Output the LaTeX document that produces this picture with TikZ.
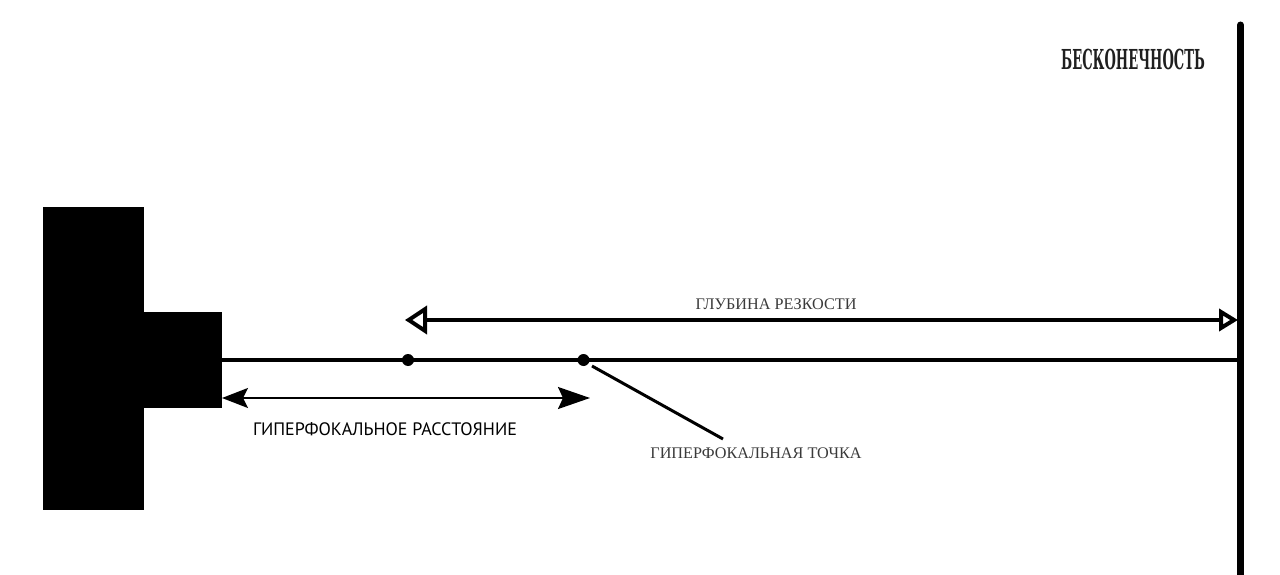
\documentclass[tikz,border=0pt]{standalone}
\usepackage{fontspec}
\setmainfont{Liberation Serif}
\newfontfamily\labsans{PT Sans}
\newfontfamily\labslab{DejaVu Serif}
\usetikzlibrary{arrows.meta}
\definecolor{txtgray}{HTML}{3A3A3A}
\tikzset{
  solidblock/.style={fill=black, draw=none},
  axisline/.style={line width=4pt},
  dofarrow/.style={line width=3.5pt, {Triangle[open,length=22pt,width=28pt,line width=4pt]}-{Triangle[open,length=19pt,width=22pt,line width=4pt]}},
  hyparrow/.style={line width=2pt, {Stealth[length=26pt,width=20pt,inset=5pt]}-{Stealth[length=32pt,width=22pt,inset=5pt]}},
  dotpt/.style={circle, fill=black, inner sep=0pt, minimum size=12pt},
  serlabel/.style={font=\fontsize{16.2}{17}\selectfont, text=txtgray, inner sep=0pt},
}
\begin{document}
\begin{tikzpicture}[x=1pt,y=-1pt]
\useasboundingbox (0,0) rectangle (1280,575);
% camera body
\fill[solidblock] (43,207) rectangle (144,510);
\fill[solidblock] (143,312) rectangle (222,408);
\coordinate (lens) at (222,360);
\coordinate (lensb) at (222,398);
% infinity line
\coordinate (inftop) at (1240.5,25);
\coordinate (infbot) at (1240.5,580);
\draw[line width=7pt, line cap=round] (inftop) -- (infbot);
% axis
\coordinate (axend) at (1240,360);
\draw[axisline] (lens) -- (axend);
% points
\node[dotpt] (near) at (408,360) {};
\node[dotpt] (hyp) at (583.5,360) {};
% depth of field arrow
\coordinate (dofL) at (405,320);
\coordinate (dofR) at (1238,320);
\draw[dofarrow] (dofL) -- (dofR);
\node[serlabel] (doflab) at (776,304.5) {ГЛУБИНА РЕЗКОСТИ};
% hyperfocal distance arrow
\coordinate (hypR) at (590,398);
\draw[hyparrow] (lensb) -- (hypR);
\node[font=\labsans\fontsize{18}{19}\selectfont, inner sep=0pt] (hyplab) at (385,429) {ГИПЕРФОКАЛЬНОЕ РАССТОЯНИЕ};
% leader
\coordinate (leadend) at (723,439);
\draw[line width=3pt] (592,366) -- (leadend);
\node[serlabel] (hyppt) at (756,453.5) {ГИПЕРФОКАЛЬНАЯ ТОЧКА};
% infinity label
\node[font=\labslab\bfseries\fontsize{27.5}{28}\selectfont, text=black!88, xscale=0.475, inner sep=0pt] (inflab) at (1133,59) {БЕСКОНЕЧНОСТЬ};
\end{tikzpicture}
\end{document}
